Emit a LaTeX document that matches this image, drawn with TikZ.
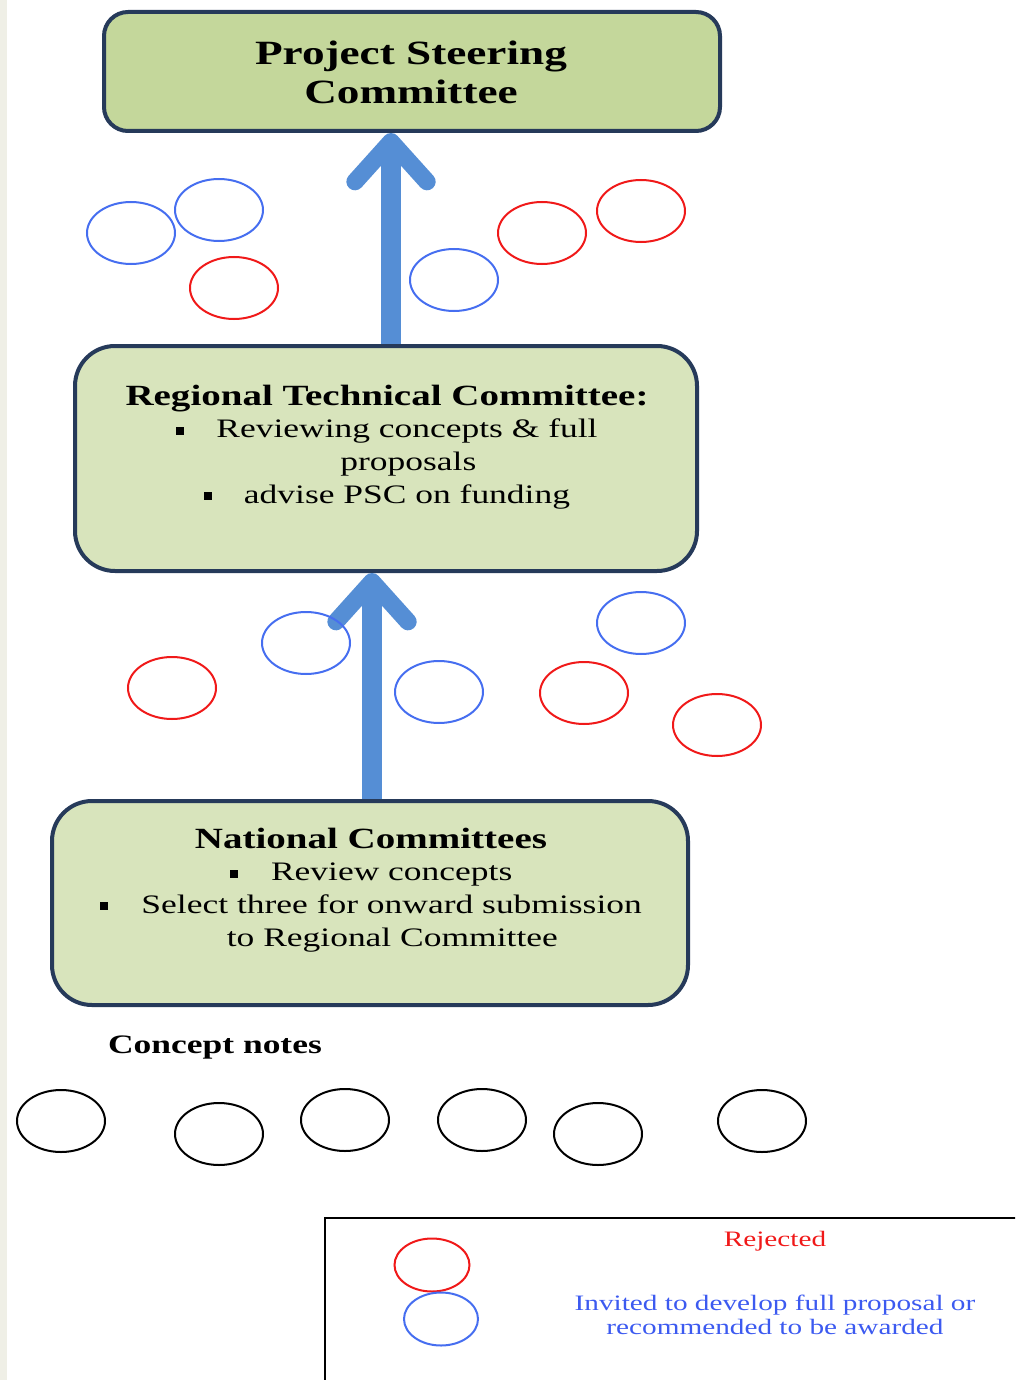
\documentclass[tikz,border=0pt]{standalone}
\usepackage{fontspec}
\setmainfont{Liberation Serif}[FakeStretch=1.33]
\usetikzlibrary{arrows.meta,calc}
\definecolor{pscfill}{RGB}{196,215,155}
\definecolor{boxfill}{RGB}{216,228,188}
\definecolor{boxline}{RGB}{38,58,90}
\definecolor{arrowblue}{RGB}{85,142,213}
\definecolor{circred}{RGB}{240,25,25}
\definecolor{circblue}{RGB}{70,110,240}
\definecolor{txtblue}{RGB}{60,90,240}
\definecolor{strip}{RGB}{239,239,230}
\newcommand{\bul}{\rule[0.12em]{0.3em}{0.3em}}
\newcommand{\ttl}[1]{{\fontsize{22}{24.5}\selectfont\bfseries #1}}
\begin{document}
\begin{tikzpicture}[x=0.75pt,y=-0.75pt,
  box/.style={draw=boxline,line width=3pt,inner sep=0pt},
  bigarrow/.style={draw=arrowblue,line width=15pt,
    -{Straight Barb[length=30pt,width=54pt,line width=13pt 0,round]}},
  redc/.style={draw=circred,line width=1.5pt},
  bluec/.style={draw=circblue,line width=1.5pt},
  blackc/.style={draw=black,line width=1.5pt},
  head/.style={font=\fontsize{25.5}{29.25}\selectfont\bfseries,align=center,inner sep=0pt},
  body/.style={font=\fontsize{20}{24.5}\selectfont,align=center,inner sep=0pt}]
\useasboundingbox (0,0) rectangle (1015,1380);
\clip (0,0) rectangle (1015,1380);
\fill[strip] (0,0) rectangle (7,1380);

% boxes
\node[box,fill=pscfill,minimum width=462pt,minimum height=89.25pt,rounded corners=18pt] (psc) at (412,71.5) {};
\node[box,fill=boxfill,minimum width=466.5pt,minimum height=168.75pt,rounded corners=30pt] (rtc) at (386,458.5) {};
\node[box,fill=boxfill,minimum width=477pt,minimum height=153pt,rounded corners=30pt] (nc) at (370,903) {};

% arrows
\draw[bigarrow] (rtc.north -| 391,0) -- (psc.south -| 391,0);
\draw[bigarrow] (nc.north -| 372,0) -- (rtc.south -| 372,0);

% texts
\node[head] (psct) at (411,72) {Project Steering\\Committee};
\node[body] (rtct) at (387,447) {\ttl{Regional Technical Committee:}\\
  \bul\hspace{24pt}Reviewing concepts \& full\\
  \hspace*{32pt}proposals\\
  \bul\hspace{24pt}advise PSC on funding};
\node[body] (nct) at (371,890) {\ttl{National Committees}\\
  \bul\hspace{25pt}Review concepts\\
  \bul\hspace{25pt}Select three for onward submission\\
  \hspace*{32pt}to Regional Committee};

% circles between PSC and RTC
\draw[bluec] (131,233) ellipse [x radius=44,y radius=31];
\draw[bluec] (219,210) ellipse [x radius=44,y radius=31];
\draw[redc] (234,288) ellipse [x radius=44,y radius=31];
\draw[bluec] (454,280) ellipse [x radius=44,y radius=31];
\draw[redc] (542,233) ellipse [x radius=44,y radius=31];
\draw[redc] (641,211) ellipse [x radius=44,y radius=31];

% circles between RTC and NC
\draw[redc] (172,688) ellipse [x radius=44,y radius=31];
\draw[bluec] (306,643) ellipse [x radius=44,y radius=31];
\draw[bluec] (439,692) ellipse [x radius=44,y radius=31];
\draw[bluec] (641,623) ellipse [x radius=44,y radius=31];
\draw[redc] (584,693) ellipse [x radius=44,y radius=31];
\draw[redc] (717,725) ellipse [x radius=44,y radius=31];

% concept notes
\node[font=\fontsize{20}{24}\selectfont\bfseries,inner sep=0pt] (cn) at (215,1047) {Concept notes};
\draw[blackc] (61,1121) ellipse [x radius=44,y radius=31];
\draw[blackc] (219,1134) ellipse [x radius=44,y radius=31];
\draw[blackc] (345,1120) ellipse [x radius=44,y radius=31];
\draw[blackc] (482,1120) ellipse [x radius=44,y radius=31];
\draw[blackc] (598,1134) ellipse [x radius=44,y radius=31];
\draw[blackc] (762,1121) ellipse [x radius=44,y radius=31];

% legend
\draw[line width=1.5pt] (325,1400) -- (325,1218) -- (1030,1218);
\draw[redc] (432,1265) ellipse [x radius=37.5,y radius=26.5];
\draw[bluec] (441,1319) ellipse [x radius=37,y radius=26.5];
\node[font=\fontsize{16.5}{18}\selectfont,text=circred,inner sep=0pt] (rej) at (775,1241) {Rejected};
\node[font=\fontsize{16.5}{18}\selectfont,text=txtblue,align=center,inner sep=0pt] (inv) at (775,1315)
  {Invited to develop full proposal or\\recommended to be awarded};
\end{tikzpicture}
\end{document}
